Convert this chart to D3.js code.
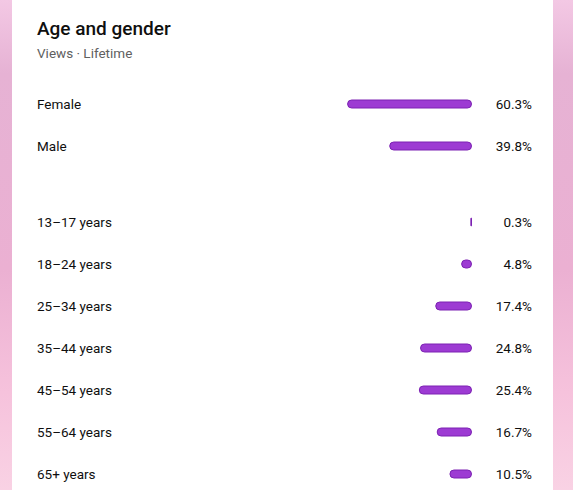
<!DOCTYPE html>
<html>
<head>
<meta charset="utf-8">
<script src="https://cdn.jsdelivr.net/npm/d3@7"></script>
<style>
body{margin:0;background:#fff}
svg{display:block;font-family:Roboto,"Noto Sans",sans-serif}
</style>
</head>
<body>
<div id="chart"></div>
<script>
var genderLabels=['Female','Male']
var genderValues=[60.3,39.8]
var ageLabels=['13–17 years','18–24 years','25–34 years','35–44 years','45–54 years','55–64 years','65+ years']
var ageValues=[0.3,4.8,17.4,24.8,25.4,16.7,10.5]

function MakeChart(container){
    var W=573,H=490
    var svg=d3.select(container).append('svg')
	.attr('width',W).attr('height',H)

    var defs=svg.append('defs')
    var grad=defs.append('linearGradient').attr('id','bg')
	.attr('x1',0).attr('y1',0).attr('x2',0).attr('y2',1)
    grad.append('stop').attr('offset','0%').attr('stop-color','#f3c8e4')
    grad.append('stop').attr('offset','15%').attr('stop-color','#e6b2d4')
    grad.append('stop').attr('offset','55%').attr('stop-color','#ebb0d2')
    grad.append('stop').attr('offset','80%').attr('stop-color','#f6c2dc')
    grad.append('stop').attr('offset','100%').attr('stop-color','#f9d2e4')

    svg.append('rect').attr('width',W).attr('height',H).attr('fill','url(#bg)')
    // white card
    svg.append('rect').attr('x',12).attr('y',0).attr('width',541).attr('height',H).attr('fill','#fff')

    svg.append('text').attr('x',37).attr('y',35)
	.attr('font-size',19).attr('font-weight',500).attr('fill','#0f0f0f')
	.text('Age and gender')
    svg.append('text').attr('x',37).attr('y',58)
	.attr('font-size',13.5).attr('fill','#606060')
	.text('Views · Lifetime')

    var barRight=471.5
    var x=d3.scaleLinear().domain([0,100]).range([0,205.5])
    var yG=d3.scaleLinear().domain([0,1]).range([104,146])
    var yA=d3.scaleLinear().domain([0,6]).range([222,474])

    var rows=genderLabels.map(function(l,i){return {label:l,value:genderValues[i],y:yG(i)}})
	.concat(ageLabels.map(function(l,i){return {label:l,value:ageValues[i],y:yA(i)}}))

    var g=svg.append('g').selectAll('g').data(rows).enter().append('g')

    g.append('text').attr('x',37).attr('y',function(d){return d.y})
	.attr('dy','0.35em').attr('font-size',13.5).attr('fill','#0f0f0f')
	.text(function(d){return d.label})

    g.append('rect')
	.attr('x',function(d){return barRight-x(d.value)})
	.attr('y',function(d){return d.y-4})
	.attr('width',function(d){return x(d.value)})
	.attr('height',8)
	.attr('rx',function(d){return Math.min(4,x(d.value)/2)})
	.attr('fill','#9d3bd3')
	.attr('stroke','#7c22b3')
	.attr('stroke-width',1)

    g.append('text').attr('x',532).attr('y',function(d){return d.y})
	.attr('dy','0.35em').attr('text-anchor','end')
	.attr('font-size',13.5).attr('fill','#0f0f0f')
	.text(function(d){return d.value.toFixed(1)+'%'})
}
MakeChart('#chart')
</script>
</body>
</html>
